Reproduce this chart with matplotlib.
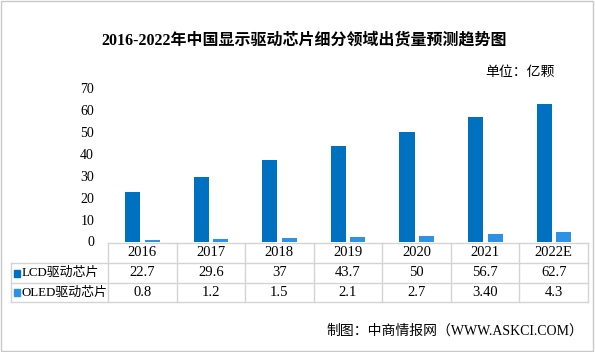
import matplotlib.pyplot as plt
from matplotlib.patches import Rectangle
import matplotlib.transforms as mtrans
import numpy as np

plt.rcParams['font.family'] = ['Liberation Serif', 'Noto Sans CJK SC', 'DejaVu Sans']

years = ['2016', '2017', '2018', '2019', '2020', '2021', '2022E']
lcd = [22.7, 29.6, 37, 43.7, 50, 56.7, 62.7]
oled = [0.8, 1.2, 1.5, 2.1, 2.7, 3.40, 4.3]
lcd_txt = ['22.7', '29.6', '37', '43.7', '50', '56.7', '62.7']
oled_txt = ['0.8', '1.2', '1.5', '2.1', '2.7', '3.40', '4.3']
series_names = ['LCD驱动芯片', 'OLED驱动芯片']
c_lcd = '#0070C0'
c_oled = '#2E92E4'
grid_c = '#D4D4D4'

fig = plt.figure(figsize=(5.95, 3.52), dpi=100)
ax = fig.add_axes([108/595, 1-241.5/352, 480/595, 153.5/352])

x = np.arange(len(years))
ax.bar(x - 0.14, lcd, width=0.22, color=c_lcd, zorder=3)
ax.bar(x + 0.145, oled, width=0.22, color=c_oled, zorder=3)
ax.set_xlim(-0.5, len(years) - 0.5)
ax.set_ylim(0, 70)
ax.set_yticks(range(0, 71, 10))
ax.tick_params(axis='y', length=0, pad=10, labelsize=10)
ax.set_xticks([])
for s in ax.spines.values():
    s.set_visible(False)

# data table below the axis
tb = fig.transFigure
blend = mtrans.blended_transform_factory(ax.transData, tb)
fy = lambda py: 1 - py / 352
xl = -0.5 - (108 - 11) / (480 / 7)

ax.plot([-0.5, 6.5], [fy(243)] * 2, color=grid_c, lw=1, clip_on=False, transform=blend)
for py in [263, 283, 302]:
    ax.plot([xl, 6.5], [fy(py)] * 2, color=grid_c, lw=1, clip_on=False, transform=blend)
for i in range(len(years) + 1):
    ax.plot([i - 0.5] * 2, [fy(243), fy(302)], color=grid_c, lw=1, clip_on=False, transform=blend)
ax.plot([xl] * 2, [fy(263), fy(302)], color=grid_c, lw=1, clip_on=False, transform=blend)

for i in range(len(years)):
    ax.text(i, fy(253), years[i], ha='center', va='center', fontsize=10.5, transform=blend)
    ax.text(i, fy(273), lcd_txt[i], ha='center', va='center', fontsize=10.5, transform=blend)
    ax.text(i, fy(292.5), oled_txt[i], ha='center', va='center', fontsize=10.5, transform=blend)

for name, col, py in zip(series_names, [c_lcd, c_oled], [273, 292.5]):
    fig.patches.append(Rectangle((14/595, fy(py + 3.5)), 6/595, 7/352, color=col,
                                 transform=tb, figure=fig))
    fig.text(22/595, fy(py), name, ha='left', va='center', fontsize=9.3)

fig.text(304/595, fy(41), '2016-2022年中国显示驱动芯片细分领域出货量预测趋势图',
         ha='center', va='center', fontsize=11.5, weight='bold')
fig.text(555/595, fy(72), '单位：亿颗', ha='right', va='center', fontsize=10)
fig.text(583/595, fy(331), '制图：中商情报网（WWW.ASKCI.COM）', ha='right', va='center', fontsize=10)

fig.patches.append(Rectangle((0.002, 0.003), 0.995, 0.994, fill=False, ec='#C8C8C8', lw=1,
                             transform=tb, figure=fig))

fig.savefig('out.png', dpi=100)
